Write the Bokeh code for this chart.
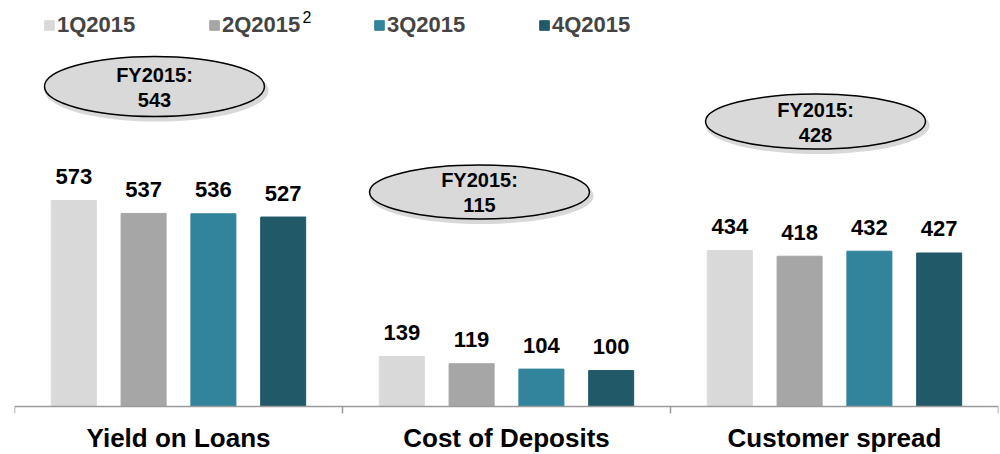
from bokeh.plotting import figure
from bokeh.models import (FactorRange, Range1d, ColumnDataSource, Legend,
                          LegendItem, Label, Span)
from bokeh.core.properties import value
from bokeh.embed import file_html
from bokeh.resources import INLINE

# ---------------- data ----------------
groups = ["Yield on Loans", "Cost of Deposits", "Customer spread"]
quarters = ["1Q2015", "2Q2015", "3Q2015", "4Q2015"]
yield_on_loans = [573, 537, 536, 527]
cost_of_deposits = [139, 119, 104, 100]
customer_spread = [434, 418, 432, 427]
fy2015 = [543, 115, 428]
fy_label = "FY2015:"

# ---------------- style ----------------
colors = ["#d9d9d9", "#a6a6a6", "#31849b", "#215968"]
FONT = "Liberation Sans"
K = 573 / 206.0          # data units per screen pixel (vertical)
W, H = 1000, 454
BASE = 406               # baseline, px from top of figure

series = [yield_on_loans, cost_of_deposits, customer_spread]

xr = FactorRange(factors=[(g, q) for g in groups for q in quarters],
                 factor_padding=0, group_padding=0.7,
                 range_padding=0.35, range_padding_units="absolute")
yr = Range1d(start=-(H - BASE) * K, end=BASE * K)

p = figure(width=W, height=H, x_range=xr, y_range=yr,
           output_backend="svg", toolbar_location=None,
           x_axis_location=None, y_axis_location=None,
           min_border_left=14, min_border_right=2,
           min_border_top=0, min_border_bottom=0,
           outline_line_color=None, background_fill_color="white",
           border_fill_color="white")
p.xgrid.visible = False
p.ygrid.visible = False

items = []
for qi, q in enumerate(quarters):
    src = ColumnDataSource(dict(
        x=[(g, q) for g in groups],
        top=[s[qi] for s in series],
        label=[str(s[qi]) for s in series]))
    r = p.vbar(x="x", top="top", bottom=0, width=0.645, source=src,
               fill_color=colors[qi], line_color=colors[qi])
    items.append(LegendItem(label=q, renderers=[r]))
    p.text(x="x", y="top", text="label", source=src, text_align="center",
           text_baseline="middle", y_offset=-24,
           text_font=value(FONT), text_font_style="bold",
           text_font_size="22px", text_color="black")

# axis line and group boundary ticks
p.add_layout(Span(location=0, dimension="width", line_color="#9a9a9a",
                  line_width=1.5))
tick_x = [(groups[0], quarters[0], -0.85)] + [(g, quarters[-1], 0.85) for g in groups]
p.segment(x0=tick_x, x1=tick_x, y0=[0] * 4, y1=[-7 * K] * 4,
          line_color="#9a9a9a", line_width=1.5)

# category labels
cat_x = [(g, quarters[1], 0.5) for g in groups]
p.text(x=cat_x, y=[-31.5 * K] * 3, text=groups, text_align="center",
       text_baseline="middle", text_font=value(FONT),
       text_font_style="bold", text_font_size="26px", text_color="black")

# FY2015 ellipses
ell_off = [0.156, 0.113, 0.228]
ell_cy = [320, 214.5, 285]          # px above baseline
ell_h = [60, 54, 55]
ell_x = [(g, quarters[1], o) for g, o in zip(groups, ell_off)]
ell_xs = [(g, quarters[1], o + 0.03) for g, o in zip(groups, ell_off)]
ell_y = [c * K for c in ell_cy]
p.ellipse(x=ell_xs, y=[y - 4 * K for y in ell_y], width=224,
          height=[h + 2 for h in ell_h], width_units="screen",
          height_units="screen", fill_color="#7f7f7f", fill_alpha=0.3,
          line_color=None)
p.ellipse(x=ell_x, y=ell_y, width=220, height=ell_h, width_units="screen",
          height_units="screen", fill_color="#d9d9d9", line_color="black",
          line_width=1.5)
p.text(x=ell_x, y=ell_y, text=[fy_label] * 3, y_offset=-12,
       text_align="center", text_baseline="middle", text_font=value(FONT),
       text_font_style="bold", text_font_size="20px", text_color="black")
p.text(x=ell_x, y=ell_y, text=[str(v) for v in fy2015], y_offset=13,
       text_align="center", text_baseline="middle", text_font=value(FONT),
       text_font_style="bold", text_font_size="20px", text_color="black")

# legend
legend = Legend(items=items, location=(29, H - 37.5), orientation="horizontal",
                padding=0, margin=0, spacing=0, glyph_width=12,
                glyph_height=12, label_standoff=2, label_width=151,
                label_text_font=FONT, label_text_font_style="bold",
                label_text_font_size="22px", border_line_color=None,
                background_fill_alpha=0)
p.add_layout(legend)
p.add_layout(Label(x=288, y=H - 10, x_units="screen", y_units="screen",
                   text="2", text_font=FONT, text_font_size="16px",
                   text_baseline="top", text_color="black"))

open("out.html", "w").write(file_html(p, INLINE))
